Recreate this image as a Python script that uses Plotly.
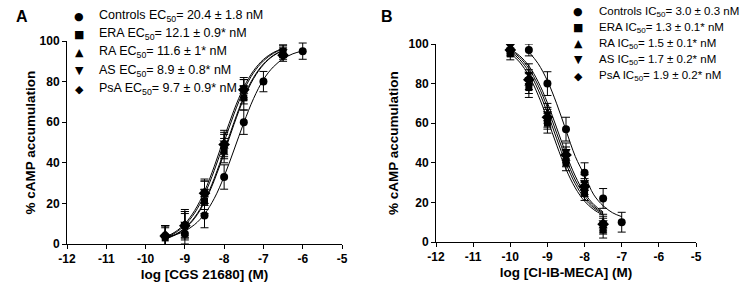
import plotly.graph_objects as go

W, H = 743, 290

# ---------------- data ----------------
x_tickvals = [-12, -11, -10, -9, -8, -7, -6, -5]
x_ticktext = ["-12", "-11", "-10", "-9", "-8", "-7", "-6", "-5"]
y_tickvals = [0, 20, 40, 60, 80, 100]

series_names = ["Controls", "ERA", "RA", "AS", "PsA"]
series_symbols = ["circle", "square", "triangle-up", "triangle-down", "diamond"]
legend_glyphs = ["\u25CF", "\u25A0", "\u25B2", "\u25BC", "\u25C6"]

# Panel A: CGS 21680 (EC50)
a_ec50_text = ["20.4 \u00b1 1.8 nM", "12.1 \u00b1 0.9* nM", "11.6 \u00b1 1* nM",
               "8.9 \u00b1 0.8* nM", "9.7 \u00b1 0.9* nM"]
a_conc_ctrl = [-9.5, -9, -8.5, -8, -7.5, -7, -6]
a_conc = [-9.5, -9, -8.5, -8, -7.5, -6.5]
a_ctrl = [4, 5, 14, 33, 60, 80, 95]
a_ctrl_err = [5, 5, 6, 6, 6, 5, 4]
a_era = [3, 9, 21, 46, 72, 95]
a_era_err = [5, 6, 6, 6, 6, 3]
a_ra = [4, 10, 24, 48, 75, 94]
a_ra_err = [5, 6, 7, 6, 6, 3]
a_as = [4, 10, 26, 50, 77, 95]
a_as_err = [5, 7, 6, 6, 5, 3]
a_psa = [4, 9, 25, 49, 76, 93]
a_psa_err = [5, 7, 6, 6, 5, 3]

a_fit_x_ctrl = [-9.5, -9.25, -9, -8.75, -8.5, -8.25, -8, -7.75, -7.5, -7.25, -7, -6.75, -6.5, -6.25, -6]
a_fit_ctrl = [3.5, 4.5, 6.4, 9.6, 14.7, 22.5, 33.3, 46.3, 59.7, 71.7, 81.0, 87.2, 91.2, 93.7, 95.1]
a_fit_x = [-9.5, -9.25, -9, -8.75, -8.5, -8.25, -8, -7.75, -7.5, -7.25, -7, -6.75, -6.5]
a_fit_era = [2.5, 4.4, 7.6, 12.7, 20.5, 31.4, 44.7, 58.9, 71.6, 81.5, 88.3, 92.7, 95.3]
a_fit_ra = [2.6, 4.6, 7.9, 13.2, 21.2, 32.4, 45.9, 59.9, 72.5, 82.1, 88.7, 92.9, 95.5]
a_fit_as = [3.4, 5.9, 10.0, 16.5, 25.9, 38.3, 52.4, 65.9, 77.2, 85.4, 90.9, 94.3, 96.3]
a_fit_psa = [3.1, 5.4, 9.3, 15.3, 24.3, 36.3, 50.2, 64.0, 75.7, 84.4, 90.2, 93.9, 96.1]

# Panel B: Cl-IB-MECA (IC50)
b_ic50_text = ["3.0 \u00b1 0.3 nM", "1.3 \u00b1 0.1* nM", "1.5 \u00b1 0.1* nM",
               "1.7 \u00b1 0.2* nM", "1.9 \u00b1 0.2* nM"]
b_conc_ctrl = [-9.5, -9, -8.5, -8, -7.5, -7]
b_conc = [-10, -9.5, -9, -8.5, -8, -7.5]
b_ctrl = [97, 80, 57, 35, 22, 10]
b_ctrl_err = [3, 6, 6, 5, 5, 5]
b_era = [95, 78, 60, 40, 25, 6]
b_era_err = [3, 5, 5, 4, 4, 4]
b_ra = [98, 80, 62, 42, 27, 8]
b_ra_err = [3, 5, 5, 4, 4, 4]
b_as = [99, 85, 65, 46, 30, 10]
b_as_err = [3, 5, 5, 4, 4, 4]
b_psa = [97, 82, 63, 44, 28, 9]
b_psa_err = [3, 5, 5, 4, 4, 4]

b_fit_x_ctrl = [-9.5, -9.25, -9, -8.75, -8.5, -8.25, -8, -7.75, -7.5, -7.25, -7]
b_fit_ctrl = [96.0, 90.1, 81.4, 69.8, 56.4, 43.2, 33.6, 23.8, 18.3, 14.8, 12.8]
b_fit_x = [-10, -9.75, -9.5, -9.25, -9, -8.75, -8.5, -8.25, -8, -7.75, -7.5]
b_fit_era = [95.4, 90.9, 84.0, 74.2, 62.0, 48.9, 36.8, 27.3, 20.6, 16.3, 13.6]
b_fit_ra = [96.2, 92.2, 86.0, 76.9, 65.2, 52.1, 39.6, 29.4, 22.0, 17.2, 14.2]
b_fit_as = [96.9, 93.3, 87.6, 79.1, 67.9, 54.9, 42.1, 31.3, 23.4, 18.0, 14.7]
b_fit_psa = [97.4, 94.1, 88.9, 81.0, 70.3, 57.6, 44.6, 33.3, 24.7, 18.9, 15.2]

y_title = "% cAMP accumulation"
a_x_title = "log [CGS 21680] (M)"
b_x_title = "log [Cl-IB-MECA] (M)"

# ---------------- figure ----------------
FONT = "Liberation Sans, Arial, sans-serif"
fig = go.Figure()

def px_x(x):
    return x / W

def px_y(y):
    return 1 - y / H

marker_sizes = [8, 7, 8, 8, 9]

panels = [
    dict(xa="x", ya="y",
         fits=[(a_fit_x_ctrl, a_fit_ctrl), (a_fit_x, a_fit_era), (a_fit_x, a_fit_ra),
               (a_fit_x, a_fit_as), (a_fit_x, a_fit_psa)],
         pts=[(a_conc_ctrl, a_ctrl, a_ctrl_err), (a_conc, a_era, a_era_err),
              (a_conc, a_ra, a_ra_err), (a_conc, a_as, a_as_err), (a_conc, a_psa, a_psa_err)]),
    dict(xa="x2", ya="y2",
         fits=[(b_fit_x_ctrl, b_fit_ctrl), (b_fit_x, b_fit_era), (b_fit_x, b_fit_ra),
               (b_fit_x, b_fit_as), (b_fit_x, b_fit_psa)],
         pts=[(b_conc_ctrl, b_ctrl, b_ctrl_err), (b_conc, b_era, b_era_err),
              (b_conc, b_ra, b_ra_err), (b_conc, b_as, b_as_err), (b_conc, b_psa, b_psa_err)]),
]

for p in panels:
    for (fx, fy) in p["fits"]:
        fig.add_trace(go.Scatter(x=fx, y=fy, mode="lines", xaxis=p["xa"], yaxis=p["ya"],
                                 line=dict(color="black", width=1, shape="spline", smoothing=1),
                                 showlegend=False, hoverinfo="skip"))
    for i, (cx, cy, ce) in enumerate(p["pts"]):
        fig.add_trace(go.Scatter(x=cx, y=cy, mode="markers", xaxis=p["xa"], yaxis=p["ya"],
                                 name=series_names[i],
                                 marker=dict(symbol=series_symbols[i], size=marker_sizes[i],
                                             color="black", line=dict(width=0)),
                                 error_y=dict(type="data", array=ce, color="black",
                                              thickness=1, width=4),
                                 cliponaxis=False, showlegend=False))

axis_common = dict(showline=True, linecolor="black", linewidth=1, ticks="outside",
                   ticklen=4, tickwidth=1, tickcolor="black", showgrid=False,
                   zeroline=False, mirror=False, automargin=True,
                   tickfont=dict(family=FONT, size=12, color="black", weight="bold"))

title_font = dict(family=FONT, size=13.5, color="black", weight="bold")

fig.update_layout(
    template="none",
    width=W, height=H, margin=dict(l=0, r=0, t=0, b=0, pad=0, autoexpand=False),
    paper_bgcolor="white", plot_bgcolor="white", showlegend=False,
    xaxis=dict(domain=[px_x(67), px_x(342)], range=[-12, -5], anchor="y",
               tickvals=x_tickvals, ticktext=x_ticktext,
               title=dict(text=a_x_title, standoff=4, font=title_font),
               **axis_common),
    yaxis=dict(domain=[px_y(244), px_y(41)], range=[0, 100], anchor="x",
               tickvals=y_tickvals, **axis_common),
    xaxis2=dict(domain=[px_x(436), px_x(696)], range=[-12, -5], anchor="y2",
                tickvals=x_tickvals, ticktext=x_ticktext,
                title=dict(text=b_x_title, standoff=4, font=title_font),
                **axis_common),
    yaxis2=dict(domain=[px_y(242), px_y(44)], range=[0, 100], anchor="x2",
                tickvals=y_tickvals, **axis_common),
)

annotations = []
# y-axis titles (rotated)
annotations.append(dict(text=y_title, x=px_x(30), y=px_y(142.5), xref="paper", yref="paper",
                        showarrow=False, textangle=-90, xanchor="center", yanchor="middle",
                        font=title_font))
annotations.append(dict(text=y_title, x=px_x(393), y=px_y(143), xref="paper", yref="paper",
                        showarrow=False, textangle=-90, xanchor="center", yanchor="middle",
                        font=title_font))
# panel letters
annotations.append(dict(text="A", x=px_x(22), y=px_y(16), xref="paper", yref="paper",
                        showarrow=False, xanchor="center", yanchor="middle",
                        font=dict(family=FONT, size=16, color="black", weight="bold")))
annotations.append(dict(text="B", x=px_x(387), y=px_y(16), xref="paper", yref="paper",
                        showarrow=False, xanchor="center", yanchor="middle",
                        font=dict(family=FONT, size=16, color="black", weight="bold")))

def add_legend(sym_x, text_x, y0, dy, label, values, size):
    for i in range(5):
        y = y0 + dy * i
        annotations.append(dict(text=legend_glyphs[i], x=px_x(sym_x), y=px_y(y),
                                xref="paper", yref="paper", showarrow=False,
                                xanchor="center", yanchor="middle",
                                font=dict(family="DejaVu Sans", size=11, color="black")))
        annotations.append(dict(text=f"{series_names[i]} {label}<sub>50</sub>= {values[i]}",
                                x=px_x(text_x), y=px_y(y), xref="paper", yref="paper",
                                showarrow=False, xanchor="left", yanchor="middle",
                                font=dict(family=FONT, size=size, color="black")))

add_legend(79, 97, 16, 18.25, "EC", a_ec50_text, 12.5)
add_legend(578, 597, 12, 16, "IC", b_ic50_text, 11.5)

fig.update_layout(annotations=annotations)
fig.write_html("out.html", config={"displayModeBar": False},
               post_script="document.body.style.margin='0';document.body.style.overflow='hidden';")
